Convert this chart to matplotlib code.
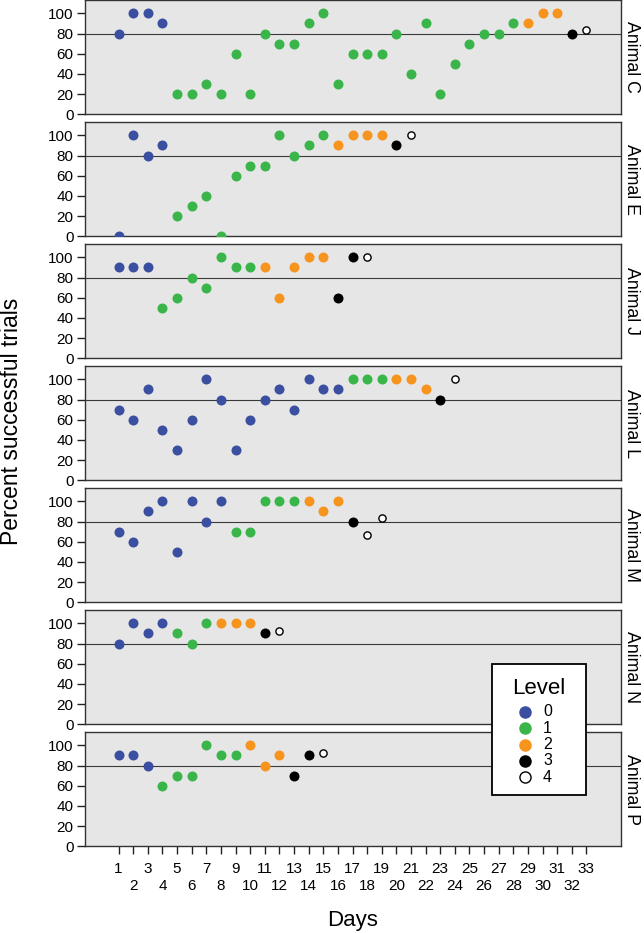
import numpy as np
import matplotlib.pyplot as plt
from matplotlib.lines import Line2D
from matplotlib.patches import Rectangle

plt.rcParams['font.family'] = ['Liberation Sans', 'DejaVu Sans']

# percent successful trials per day (day 1..n) and the level of each day
c_pct = [80, 100, 100, 90, 20, 20, 30, 20, 60, 20, 80, 70, 70, 90, 100, 30, 60,
         60, 60, 80, 40, 90, 20, 50, 70, 80, 80, 90, 90, 100, 100, 80, 83]
c_lvl = [0, 0, 0, 0, 1, 1, 1, 1, 1, 1, 1, 1, 1, 1, 1, 1, 1,
         1, 1, 1, 1, 1, 1, 1, 1, 1, 1, 1, 2, 2, 2, 3, 4]

e_pct = [0, 100, 80, 90, 20, 30, 40, 0, 60, 70, 70, 100, 80, 90, 100, 90, 100,
         100, 100, 90, 100]
e_lvl = [0, 0, 0, 0, 1, 1, 1, 1, 1, 1, 1, 1, 1, 1, 1, 2, 2, 2, 2, 3, 4]

j_pct = [90, 90, 90, 50, 60, 80, 70, 100, 90, 90, 90, 60, 90, 100, 100, 60, 100, 100]
j_lvl = [0, 0, 0, 1, 1, 1, 1, 1, 1, 1, 2, 2, 2, 2, 2, 3, 3, 4]

l_pct = [70, 60, 90, 50, 30, 60, 100, 80, 30, 60, 80, 90, 70, 100, 90, 90, 100,
         100, 100, 100, 100, 90, 80, 100]
l_lvl = [0, 0, 0, 0, 0, 0, 0, 0, 0, 0, 0, 0, 0, 0, 0, 0, 1, 1, 1, 2, 2, 2, 3, 4]

m_pct = [70, 60, 90, 100, 50, 100, 80, 100, 70, 70, 100, 100, 100, 100, 90, 100,
         80, 67, 83]
m_lvl = [0, 0, 0, 0, 0, 0, 0, 0, 1, 1, 1, 1, 1, 2, 2, 2, 3, 4, 4]

n_pct = [80, 100, 90, 100, 90, 80, 100, 100, 100, 100, 90, 92]
n_lvl = [0, 0, 0, 0, 1, 1, 1, 2, 2, 2, 3, 4]

p_pct = [90, 90, 80, 60, 70, 70, 100, 90, 90, 100, 80, 90, 70, 90, 92]
p_lvl = [0, 0, 0, 1, 1, 1, 1, 1, 1, 2, 2, 2, 3, 3, 4]

animals = ['Animal C', 'Animal E', 'Animal J', 'Animal L', 'Animal M', 'Animal N', 'Animal P']
pcts = [c_pct, e_pct, j_pct, l_pct, m_pct, n_pct, p_pct]
lvls = [c_lvl, e_lvl, j_lvl, l_lvl, m_lvl, n_lvl, p_lvl]

levels = ['0', '1', '2', '3', '4']
colors = ['#3b4fa1', '#39b54a', '#f7941e', '#000000', '#ffffff']
n_days = 33
criterion = 80

W, H = 644, 933
fig = plt.figure(figsize=(W / 100, H / 100), dpi=100)

left = 84.5 / W
width = (620.5 - 84.5) / W
height = 114 / H

for i, (name, pct, lvl) in enumerate(zip(animals, pcts, lvls)):
    bottom = 1 - (114.3 + 122 * i) / H
    ax = fig.add_axes([left, bottom, width, height])
    ax.set_facecolor('#e6e6e6')
    days = np.arange(1, len(pct) + 1)
    pct = np.array(pct)
    lvl = np.array(lvl)
    ax.axhline(criterion, color='#3a3a3a', lw=0.8, zorder=1)
    for k in range(len(levels)):
        m = lvl == k
        if k == 4:
            ax.plot(days[m], pct[m], 'o', ms=5.2, mfc='white', mec='black', mew=1.0, zorder=3)
        else:
            ax.plot(days[m], pct[m], 'o', ms=7.2, mfc=colors[k], mec=colors[k], mew=0, zorder=3)
    ax.set_xlim(-1.33, 35.33)
    ax.set_ylim(0, 112.9)
    ax.set_yticks([0, 20, 40, 60, 80, 100])
    ax.tick_params(axis='y', direction='out', length=6, width=1, labelsize=11, pad=2,
                   color='#222222')
    for s in ax.spines.values():
        s.set_color('#333333')
        s.set_linewidth(1)
    ax.annotate(name, xy=(1, 0.5), xycoords='axes fraction', xytext=(1.5, 0),
                textcoords='offset points', rotation=270, ha='left', va='center',
                fontsize=12.8)
    if i < len(animals) - 1:
        ax.tick_params(axis='x', bottom=False, labelbottom=False)
    else:
        odd = list(range(1, n_days + 1, 2))
        even = list(range(2, n_days + 1, 2))
        ax.set_xticks(odd)
        ax.set_xticklabels([str(d) for d in odd])
        ax.set_xticks(even, minor=True)
        ax.set_xticklabels([str(d) for d in even], minor=True)
        ax.tick_params(axis='x', which='major', direction='out', length=6, width=1,
                       labelsize=11, pad=5, color='#222222')
        ax.tick_params(axis='x', which='minor', direction='out', length=6, width=1,
                       labelsize=11, pad=17.5, color='#222222')
        ax.set_xlabel('Days', fontsize=16, labelpad=12)

fig.text(12 / W, 1 - 421 / H, 'Percent successful trials', rotation=90,
         ha='center', va='center', fontsize=16.5)

# legend box, drawn by hand so it sits over panels N and P like the original
rect = Rectangle((492 / W, 1 - 795 / H), 94 / W, 131 / H, transform=fig.transFigure,
                 facecolor='white', edgecolor='black', lw=1.3, zorder=10)
fig.add_artist(rect)
fig.text(539 / W, 1 - 688 / H, 'Level', ha='center', va='center', fontsize=16, zorder=11)
for k, c in enumerate(colors):
    y = 1 - (712 + 16.25 * k) / H
    mec = 'black' if k == 4 else c
    fig.add_artist(Line2D([525 / W], [y], marker='o', ls='', ms=8, mfc=c, mec=mec,
                          mew=1, transform=fig.transFigure, zorder=11))
    fig.text(543 / W, y, levels[k], ha='left', va='center', fontsize=11.5, zorder=11)

fig.savefig('out.png', dpi=100)
